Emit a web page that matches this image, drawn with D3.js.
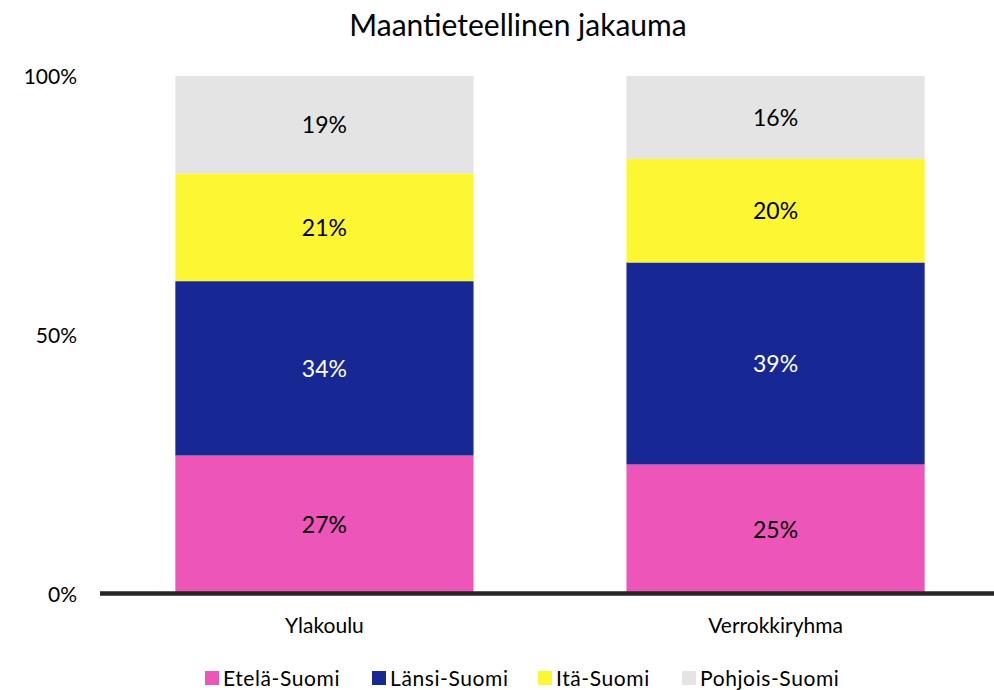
<!DOCTYPE html>
<html><head><meta charset="utf-8">
<script src="https://cdn.jsdelivr.net/npm/d3@7"></script>
<style>body{margin:0;background:#fff}text{font-family:Lato,"Open Sans",sans-serif}</style>
</head><body>
<svg id="c" width="994" height="690"></svg>
<script>
const categories = ["Ylakoulu", "Verrokkiryhma"];
const seriesNames = ["Etelä-Suomi", "Länsi-Suomi", "Itä-Suomi", "Pohjois-Suomi"];
const etela = [27, 25];
const lansi = [34, 39];
const ita = [21, 20];
const pohjois = [19, 16];
const yTicks = [0, 0.5, 1];
const colors = ["#EE55B8", "#172894", "#FDF733", "#E4E4E4"];
const labelColors = ["#000", "#fff", "#000", "#000"];

const svg = d3.select("#c");
const table = categories.map((c, i) => ({cat: c, "Etelä-Suomi": etela[i], "Länsi-Suomi": lansi[i], "Itä-Suomi": ita[i], "Pohjois-Suomi": pohjois[i]}));
const stack = d3.stack().keys(seriesNames).offset(d3.stackOffsetExpand);
const series = stack(table);

const x = d3.scaleBand().domain(categories).range([100, 1000]).paddingInner(0.339).paddingOuter(0.167);
const y = d3.scaleLinear().domain([0, 1]).range([594, 76]);

svg.append("text").attr("x", 518).attr("y", 36).attr("text-anchor", "middle")
  .attr("font-size", 30).attr("fill", "#000").text("Maantieteellinen jakauma");

const g = svg.append("g");
series.forEach((s, si) => {
  g.selectAll(null).data(s).enter().append("rect")
    .attr("x", d => x(d.data.cat)).attr("width", x.bandwidth())
    .attr("y", d => y(d[1])).attr("height", d => y(d[0]) - y(d[1]))
    .attr("fill", colors[si]);
  g.selectAll(null).data(s).enter().append("text")
    .attr("x", d => x(d.data.cat) + x.bandwidth() / 2)
    .attr("y", d => (y(d[0]) + y(d[1])) / 2)
    .attr("dy", "0.36em").attr("text-anchor", "middle")
    .attr("font-size", 23).attr("fill", labelColors[si])
    .text(d => d.data[s.key] + "%");
});

// y axis labels
const yAxis = d3.axisLeft(y).tickValues(yTicks).tickFormat(d3.format(".0%")).tickSize(0).tickPadding(0);
const ya = svg.append("g").attr("transform", "translate(77,0)").call(yAxis);
ya.select(".domain").remove();
ya.selectAll("text").attr("font-size", 21).attr("fill", "#000").attr("dy", "0.36em").style("font-family", "Lato, 'Open Sans', sans-serif");

// x axis
const xAxis = d3.axisBottom(x).tickSize(0).tickPadding(0);
const xa = svg.append("g").attr("transform", "translate(0,633)").call(xAxis);
xa.select(".domain").remove();
xa.selectAll("text").attr("font-size", 21).attr("fill", "#000").attr("dy", "0").style("font-family", "Lato, 'Open Sans', sans-serif");

svg.append("line").attr("x1", 100).attr("x2", 994).attr("y1", y(0) - 0.5).attr("y2", y(0) - 0.5)
  .attr("stroke", "#262626").attr("stroke-width", 4.5);

// legend
const legendX = [205, 372, 538, 682];
const lg = svg.append("g");
seriesNames.forEach((n, i) => {
  lg.append("rect").attr("x", legendX[i]).attr("y", 671).attr("width", 14).attr("height", 14).attr("fill", colors[i]);
  lg.append("text").attr("x", legendX[i] + 18).attr("y", 686)
    .attr("font-size", 21).attr("letter-spacing", 0.6).attr("fill", "#000").text(n);
});
</script>
</body></html>
